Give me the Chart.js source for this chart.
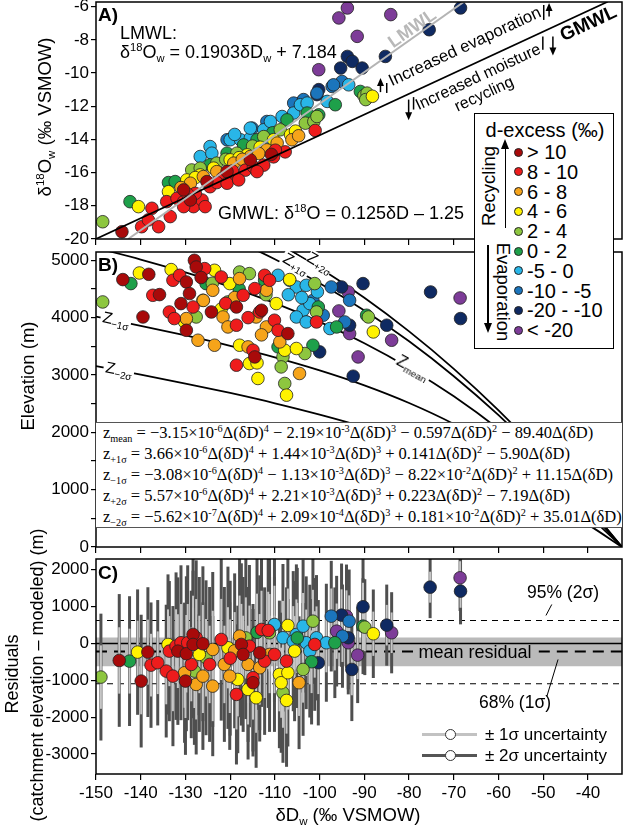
<!DOCTYPE html>
<html>
<head>
<meta charset="utf-8">
<title>Isotopes and elevation</title>
<script src="https://cdn.jsdelivr.net/npm/chart.js@4.4.1/dist/chart.umd.min.js"></script>
<style>
  body { margin: 0; background: #fff; }
  #wrap { position: relative; width: 625px; height: 828px; overflow: hidden; font-family: "Liberation Sans", Arial, sans-serif; color: #000; }
  #wrap canvas { position: absolute; left: 0; }
  .t { position: absolute; white-space: nowrap; line-height: 1; }
  sup, sub { font-size: 0.62em; line-height: 0; position: relative; vertical-align: baseline; }
  sup { top: -0.6em; }
  sub { top: 0.35em; }
  .panel { font-weight: bold; font-size: 19px; }
  .eq { position: absolute; left: 96px; top: 422px; width: 526px; height: 106px; background: #fff; border-top: 1px solid #555; border-bottom: 1px solid #555; box-sizing: border-box; font-family: "Liberation Serif", "Times New Roman", serif; font-size: 16.5px; }
  .eq div { position: absolute; left: 7px; white-space: nowrap; line-height: 1; }
  .dot { position: absolute; border-radius: 50%; border: 0.8px solid #222; box-sizing: border-box; }
  .zl { background: #fff; padding: 0 2px; font-size: 16px; }
  #legA { position: absolute; left: 474px; top: 113px; width: 140px; height: 236px; border: 1.5px solid #000; background: #fff; box-sizing: border-box; }
</style>
</head>
<body>
<div id="wrap">
  <canvas id="cA" width="625" height="250" style="top:0"></canvas>
  <canvas id="cB" width="625" height="305" style="top:250px"></canvas>
  <canvas id="cC" width="625" height="273" style="top:555px"></canvas>

  <!-- panel A text -->
  <div class="t panel" style="left:98px;top:5px">A)</div>
  <div class="t" style="left:120px;top:24px;font-size:18px">LMWL:</div>
  <div class="t" style="left:120px;top:43px;font-size:18px">δ<sup>18</sup>O<sub>w</sub> = 0.1903δD<sub>w</sub> + 7.184</div>
  <div class="t" style="left:218px;top:204px;font-size:18px">GMWL: δ<sup>18</sup>O = 0.125δD – 1.25</div>
  <div class="t" style="left:412px;top:28px;transform:translate(-50%,-50%) rotate(-35deg);font-size:18px;font-weight:bold;color:#b8b8b8">LMWL</div>
  <div class="t" style="left:588px;top:23px;transform:translate(-50%,-50%) rotate(-25deg);font-size:19px;font-weight:bold">GMWL</div>
  <div class="t" style="left:465px;top:47px;transform:translate(-50%,-50%) rotate(-25deg);font-size:16.8px">Increased evaporation</div>
  <div class="t" style="left:478px;top:76.5px;transform:translate(-50%,-50%) rotate(-25deg);font-size:16px">Increased moisture</div>
  <div class="t" style="left:484px;top:94px;transform:translate(-50%,-50%) rotate(-25deg);font-size:16px">recycling</div>
  <div class="t" style="left:45px;top:117px;transform:translate(-50%,-50%) rotate(-90deg);font-size:18.5px">δ<sup>18</sup>O<sub>w</sub> (‰ VSMOW)</div>

  <!-- panel B text -->
  <div class="t panel" style="left:98px;top:255px">B)</div>
  <div class="t zl" style="left:116px;top:320px;transform:translate(-50%,-50%) rotate(12deg)">Z<sub>−1σ</sub></div>
  <div class="t zl" style="left:119px;top:370px;transform:translate(-50%,-50%) rotate(11deg)">Z<sub>−2σ</sub></div>
  <div class="t zl" style="left:296px;top:264px;transform:translate(-50%,-50%) rotate(30deg)">Z<sub>+1σ</sub></div>
  <div class="t zl" style="left:320px;top:263px;transform:translate(-50%,-50%) rotate(30deg);padding:0">Z<sub>+2σ</sub></div>
  <div class="t zl" style="left:413px;top:368px;transform:translate(-50%,-50%) rotate(29deg)">Z<sub>mean</sub></div>
  <div class="eq">
    <div style="top:2px">z<sub>mean</sub> = −3.15×10<sup>-6</sup>Δ(δD)<sup>4</sup> − 2.19×10<sup>-3</sup>Δ(δD)<sup>3</sup> − 0.597Δ(δD)<sup>2</sup> − 89.40Δ(δD)</div>
    <div style="top:23px">z<sub>+1σ</sub> = 3.66×10<sup>-6</sup>Δ(δD)<sup>4</sup> + 1.44×10<sup>-3</sup>Δ(δD)<sup>3</sup> + 0.141Δ(δD)<sup>2</sup> − 5.90Δ(δD)</div>
    <div style="top:44px">z<sub>−1σ</sub> = −3.08×10<sup>-6</sup>Δ(δD)<sup>4</sup> − 1.13×10<sup>-3</sup>Δ(δD)<sup>3</sup> − 8.22×10<sup>-2</sup>Δ(δD)<sup>2</sup> + 11.15Δ(δD)</div>
    <div style="top:65px">z<sub>+2σ</sub> = 5.57×10<sup>-6</sup>Δ(δD)<sup>4</sup> + 2.21×10<sup>-3</sup>Δ(δD)<sup>3</sup> + 0.223Δ(δD)<sup>2</sup> − 7.19Δ(δD)</div>
    <div style="top:86px">z<sub>−2σ</sub> = −5.62×10<sup>-7</sup>Δ(δD)<sup>4</sup> + 2.09×10<sup>-4</sup>Δ(δD)<sup>3</sup> + 0.181×10<sup>-2</sup>Δ(δD)<sup>2</sup> + 35.01Δ(δD)</div>
  </div>
  <div class="t" style="left:28px;top:376px;transform:translate(-50%,-50%) rotate(-90deg);font-size:18.5px">Elevation (m)</div>

  <!-- panel C text -->
  <div class="t panel" style="left:98px;top:563px">C)</div>
  <div class="t" style="left:563px;top:593px;transform:translate(-50%,-50%);font-size:17.5px">95% (2σ)</div>
  <div class="t" style="left:515px;top:703px;transform:translate(-50%,-50%);font-size:17.5px">68% (1σ)</div>
  <div class="t" style="left:475px;top:652px;transform:translate(-50%,-50%);font-size:18px">mean residual</div>
  <div style="position:absolute;left:422px;top:732.5px;width:55px;height:3px;background:#c2c2c2"></div>
  <div class="dot" style="left:444.5px;top:728.5px;width:11px;height:11px;background:#fff;border:1px solid #333"></div>
  <div class="t" style="left:485px;top:726px;font-size:17px">± 1σ uncertainty</div>
  <div style="position:absolute;left:422px;top:753.5px;width:55px;height:3px;background:#555"></div>
  <div class="dot" style="left:444.5px;top:749.5px;width:11px;height:11px;background:#fff;border:1px solid #333"></div>
  <div class="t" style="left:485px;top:747px;font-size:17px">± 2σ uncertainty</div>
  <div class="t" style="left:12px;top:674px;transform:translate(-50%,-50%) rotate(-90deg);font-size:18px">Residuals</div>
  <div class="t" style="left:37px;top:675px;transform:translate(-50%,-50%) rotate(-90deg);font-size:18px">(catchment elevation – modeled) (m)</div>
  <div class="t" style="left:348px;top:815px;transform:translate(-50%,-50%);font-size:18.5px">δD<sub>w</sub> (‰ VSMOW)</div>

  <!-- d-excess legend -->
  <div id="legA">
    <div class="t" style="left:70px;top:6px;transform:translateX(-50%);font-size:20px">d-excess (‰)</div>
    <div class="t" style="left:14px;top:72px;transform:translate(-50%,-50%) rotate(-90deg);font-size:18.5px">Recycling</div>
    <div class="t" style="left:28px;top:178px;transform:translate(-50%,-50%) rotate(90deg);font-size:18.5px">Evaporation</div>
    <div style="position:absolute;left:29.5px;top:34px;width:1.5px;height:80px;background:#000"></div>
    <div style="position:absolute;left:26.2px;top:25px;width:0;height:0;border-left:4px solid transparent;border-right:4px solid transparent;border-bottom:10px solid #000"></div>
    <div style="position:absolute;left:12px;top:131px;width:1.5px;height:80px;background:#000"></div>
    <div style="position:absolute;left:8.7px;top:209px;width:0;height:0;border-left:4px solid transparent;border-right:4px solid transparent;border-top:10px solid #000"></div>
  </div>
</div>

<script>
// ---- data ----
const xMin = -150, xMax = -32.4;
const xTicks = [-150, -140, -130, -120, -110, -100, -90, -80, -70, -60, -50, -40];
const yTicksA = [-20, -18, -16, -14, -12, -10, -8, -6];
const yTicksB = [0, 500, 1000, 1500, 2000, 2500, 3000, 3500, 4000, 4500, 5000];
const yTicksC = [-3000, -2000, -1000, 0, 1000, 2000];

const classNames = ['> 10', '8 - 10', '6 - 8', '4 - 6', '2 - 4', '0 - 2', '-5 - 0', '-10 - -5', '-20 - -10', '< -20'];
const classColors = ['#a80a0a', '#ee1c1c', '#f6a41a', '#fff200', '#8dc63f', '#1ea04a', '#29b6e8', '#1b75bc', '#0f2a62', '#7d3c98'];

// panel A: [dD, d18O, class]
const ptsA = [
  [-144.2,-19.56,0],[-128.9,-17.65,0],[-130.4,-17.04,0],[-125.2,-16.54,0],[-120.7,-15.94,0],[-115.5,-15.23,0],[-110.8,-14.9,0],
  [-139.8,-19.26,1],[-138.3,-18.85,1],[-136.0,-19.26,1],[-137.5,-18.15,1],[-133.4,-18.65,1],[-134.2,-17.75,1],[-131.9,-17.55,1],
  [-130.4,-17.75,1],[-128.2,-18.05,1],[-126.3,-17.65,1],[-127.8,-17.25,1],[-124.5,-16.85,1],[-121.8,-16.35,1],[-118.9,-16.25,1],
  [-116.6,-15.85,1],[-114.8,-15.65,1],[-112.5,-15.55,1],[-110.3,-15.05,1],[-107.7,-14.75,1],[-109.9,-14.65,1],[-101.0,-13.46,1],
  [-129.5,-17.3,1],[-123.0,-16.6,1],[-119.5,-15.9,1],[-130.4,-18.05,1],[-125.6,-18.05,1],[-120.7,-16.64,1],[-118.1,-16.44,1],[-114.0,-15.94,1],
  [-128.9,-16.64,2],[-126.0,-16.24,2],[-123.0,-15.94,2],[-119.2,-15.43,2],[-115.5,-15.03,2],[-111.8,-14.63,2],[-109.5,-14.22,2],
  [-106.2,-14.02,2],[-104.7,-13.78,2],[-131.0,-16.9,2],[-117.3,-15.2,2],[-113.6,-14.85,2],
  [-140.5,-18.05,3],[-133.8,-17.15,3],[-129.7,-16.44,3],[-126.7,-16.14,3],[-123.7,-15.73,3],[-120.0,-15.23,3],[-116.2,-14.93,3],
  [-113.3,-14.47,3],[-110.3,-14.02,3],[-106.5,-13.72,3],[-105.4,-13.5,3],[-88.2,-11.4,3],[-127.8,-16.3,3],[-118.0,-15.1,3],
  [-148.5,-18.96,4],[-128.6,-15.84,4],[-126.7,-15.73,4],[-123.0,-15.43,4],[-118.5,-14.83,4],[-112.5,-13.83,4],[-108.8,-13.42,4],
  [-103.2,-13.02,4],[-101.3,-12.92,4],[-100.6,-12.62,4],[-90.1,-11.37,4],[-89.4,-11.21,4],[-89.7,-11.6,4],[-121.0,-15.2,4],[-115.0,-14.4,4],
  [-142.4,-17.75,5],[-133.8,-16.6,5],[-132.3,-16.54,5],[-124.5,-15.53,5],[-120.7,-14.83,5],[-117.0,-14.33,5],[-114.0,-14.02,5],
  [-107.3,-12.82,5],[-102.8,-12.41,5],[-100.2,-12.52,5],[-96.5,-11.91,5],[-90.9,-11.11,5],[-110.5,-13.6,5],
  [-126.7,-15.03,6],[-124.5,-14.43,6],[-124.1,-14.83,6],[-120.0,-14.02,6],[-117.7,-14.02,6],[-115.5,-13.92,6],[-112.5,-13.42,6],
  [-111.0,-12.92,6],[-108.4,-12.62,6],[-105.8,-12.41,6],[-104.3,-11.91,6],[-102.8,-11.81,6],[-98.3,-11.71,6],[-93.5,-10.71,6],
  [-111.8,-14.02,6],[-115.5,-13.32,6],[-119.0,-13.7,6],
  [-115.1,-13.32,7],[-103.9,-11.71,7],[-100.6,-11.21,7],[-97.2,-10.81,7],[-95.0,-10.51,7],[-111.8,-12.92,7],[-120.7,-14.02,7],
  [-105.8,-11.81,7],[-103.6,-11.6,7],[-96.9,-10.71,7],
  [-93.8,-9.0,8],[-92.7,-9.3,8],[-95.3,-9.7,8],[-90.5,-9.7,8],[-85.3,-9.0,8],[-75.5,-7.39,8],[-68.5,-6.08,8],[-100.2,-11.0,8],[-100.6,-11.3,8],
  [-100.2,-9.8,9],[-93.8,-6.08,9],[-95.7,-6.68,9],[-84.1,-6.48,9],[-91.6,-7.79,9]
];
const gmwlLine = [[-150, -20], [-35.6, -5.7]];
const lmwlLine = [[-142.8, -20], [-67.8, -5.72]];

// panel B: [dD, elevation, class]
const ptsB = [
  [-144,4664,0],[-138.2,4756,0],[-135.8,4402,0],[-139.5,4012,0],[-129.8,4622,0],[-128,5000,0],[-127.6,4883,0],[-129.1,4420,0],
  [-131,4245,0],[-129.8,3780,0],[-124.2,4099,0],[-118.6,4186,0],[-114.5,3315,0],[-113,4129,0],[-107.1,3722,0],[-126.5,4700,0],
  [-137.3,4390,1],[-133.6,4099,1],[-132.5,3984,1],[-128.3,4186,1],[-132.8,4652,1],[-131.3,4739,1],[-125.7,4855,1],[-122,4709,1],
  [-117.1,4390,1],[-118.6,3868,1],[-114.9,3432,1],[-118.6,3171,1],[-113.4,4099,1],[-114.5,4507,1],[-112.3,4739,1],[-111.2,4652,1],
  [-110.1,3955,1],[-109.3,3780,1],[-100.7,3925,1],[-121,4250,1],[-116,4000,1],
  [-129.8,3984,2],[-127.2,3606,2],[-123.5,3519,2],[-123.9,4477,2],[-121.6,4012,2],[-117.9,4681,2],[-120.5,3838,2],[-116,3490,2],
  [-114.2,4012,2],[-111.9,4477,2],[-111.9,3838,2],[-108.9,3577,2],[-104.5,3026,2],[-126,4300,2],[-119,4350,2],[-113,3700,2],
  [-140.3,4779,3],[-133.2,4838,3],[-130.2,3925,3],[-126.1,4303,3],[-123.5,4826,3],[-120.1,4594,3],[-117.9,3519,3],[-115.7,3200,3],
  [-113.8,2939,3],[-109.7,4245,3],[-107.8,3432,3],[-107.4,2648,3],[-105.2,3462,3],[-106.7,4664,3],[-88,3751,3],[-114,3211,3],[-122,4150,3],
  [-148.5,4274,4],[-127.6,4012,4],[-120.5,4274,4],[-117.9,4796,4],[-115.7,4768,4],[-108.2,3315,4],[-108.6,3141,4],[-107.8,2852,4],
  [-103.3,3374,4],[-101.1,4594,4],[-100.7,4099,4],[-89.1,4012,4],[-124,4600,4],[-112,4400,4],
  [-142.2,4594,5],[-125.4,4594,5],[-112.3,4652,5],[-109.3,3490,5],[-101.5,3519,5],[-100.3,4186,5],[-96.2,3838,5],[-89.5,4042,5],[-118,4500,5],
  [-109.3,4739,6],[-106.7,4652,6],[-105.2,4535,6],[-103,4564,6],[-103.7,4129,6],[-102.2,4245,6],[-105.2,4012,6],[-103,3925,6],
  [-97.7,3810,6],[-107,4400,6],[-104,4350,6],[-100.5,4450,6],
  [-97.4,4535,7],[-93.3,4303,7],[-99.2,4042,7],[-94.4,3925,7],[-101.5,4300,7],
  [-95.1,4535,8],[-90.3,4594,8],[-93.3,3868,8],[-85,3868,8],[-100,3403,8],[-92.5,2979,8],[-75.2,4448,8],[-68.5,3984,8],
  [-93.6,4448,9],[-95.7,4117,9],[-93.3,3722,9],[-83.9,3606,9],[-91.4,3315,9],[-68.6,4343,9]
];
// lapse-rate curves, elevation (m) at each curveX
const curveX  = [-150, -140, -130, -120, -110, -100, -90, -80, -70, -60, -50, -40, -32.4];
const zMean   = [5216, 5014, 4789, 4537, 4252, 3926, 3553, 3123, 2628, 2057, 1400, 646, 0];
const zPlus1  = [6218, 5978, 5701, 5383, 5019, 4601, 4126, 3587, 2979, 2299, 1540, 698, 0];
const zPlus2  = [6617, 6363, 6066, 5720, 5322, 4865, 4346, 3760, 3107, 2382, 1584, 712, 0];
const zMinus1 = [4017, 3857, 3689, 3508, 3308, 3081, 2820, 2512, 2146, 1709, 1184, 557, 0];
const zMinus2 = [3155, 3007, 2851, 2686, 2507, 2310, 2091, 1841, 1555, 1224, 839, 390, 0];

// panel C: [dD, residual, class, 1-sigma]
const ptsC = [
  [-144.8,-461,0,900],[-138.4,-235,0,880],[-139.9,-1021,0,900],[-131.7,-208,0,1000],[-129.8,-279,0,1050],[-130,-1021,0,1000],
  [-128.3,244,0,1050],[-128.3,-27,0,1000],[-126.1,-8,0,1050],[-117.5,-27,0,1100],[-117.1,-298,0,1050],[-114.9,-1065,0,1000],[-113.4,-253,0,1050],
  [-137.7,-588,1,850],[-136.2,-523,1,850],[-133.6,-208,1,950],[-134.3,-750,1,900],[-132.8,-886,1,950],[-132.1,-73,1,1000],
  [-131,19,1,1050],[-129.5,19,1,1050],[-127.6,154,1,1050],[-128.7,-569,1,1000],[-124.6,-569,1,1050],[-122,108,1,1100],
  [-118.6,-1382,1,950],[-115.7,-73,1,1100],[-114.9,-930,1,1000],[-113,379,1,1050],[-111.5,352,1,1050],[-112.3,-479,1,1000],
  [-110.1,-298,1,1050],[-107.4,-479,1,1000],[-101.1,-27,1,900],[-120,-400,1,1050],
  [-130.2,-794,2,950],[-127.6,-1111,2,950],[-126.1,-886,2,1000],[-123.9,-1157,2,950],[-123.9,-163,2,1050],[-121.3,-569,2,1050],
  [-120.1,-886,2,1000],[-117.9,198,2,1100],[-116,-569,2,1050],[-113.4,-659,2,1000],[-111.2,-298,2,1050],[-104.6,-1065,2,900],[-119,-200,2,1050],
  [-140.7,-235,3,850],[-133.9,-27,3,950],[-126.9,-298,3,1050],[-120.5,-117,3,1100],[-118.3,-976,3,1000],[-116,-1247,3,950],
  [-114.2,-1472,3,950],[-109,-840,3,1000],[-108.6,-1065,3,950],[-107.4,-1545,3,900],[-107.1,-794,3,1000],[-105.6,-208,3,950],
  [-107.1,488,3,1000],[-88,263,3,600],
  [-148.9,-912,4,860],[-128,-750,4,1000],[-125.4,-388,4,1050],[-111.2,289,4,1050],[-108.2,-1336,4,950],[-103.7,-705,4,900],
  [-101.5,604,4,850],[-89.9,442,4,650],[-116.5,150,4,1100],
  [-142.5,-479,5,880],[-101.8,-496,5,850],[-96.6,19,5,750],[-90.3,469,5,650],[-105,150,5,950],[-114,300,5,1050],
  [-110.1,515,6,1050],[-105.2,244,6,950],[-103.7,469,6,900],[-103,19,6,900],[-102.2,-208,6,900],[-108.2,154,6,1000],
  [-105.9,62,6,950],[-100.7,154,6,850],[-98.5,19,6,800],
  [-97.4,740,7,750],[-93.4,604,7,700],[-94.9,198,7,700],
  [-100.3,-523,8,850],[-95.1,767,8,700],[-93.6,154,8,700],[-92.8,-705,8,700],[-90.3,995,8,650],[-85,496,8,550],
  [-75.3,1526,8,420],[-68.5,1418,8,450],
  [-94,740,9,700],[-96.2,333,9,750],[-93.6,19,9,700],[-91.5,-317,9,650],[-83.9,290,9,550],[-68.6,1780,9,450]
];
const meanResidual = -217;
const bandTop = 160, bandBottom = -620;
const level95 = 623, level68 = -1092;

// ---- helpers ----
Chart.defaults.font.family = "'Liberation Sans', Arial, sans-serif";
Chart.defaults.color = '#000';

function xScale(showLabels, h) {
  return {
    type: 'linear', position: 'bottom', min: xMin, max: xMax,
    afterBuildTicks: s => { s.ticks = xTicks.map(v => ({ value: v })); },
    afterFit: s => { s.height = h; s.paddingLeft = 0; s.paddingRight = 0; },
    grid: { drawOnChartArea: false, drawTicks: true, tickLength: 6, color: '#000', lineWidth: 1.2 },
    border: { display: false },
    ticks: { display: showLabels, font: { size: 17 }, color: '#000', padding: 3, maxRotation: 0, autoSkip: false, callback: v => String(v) }
  };
}

function yScale(min, max, tickVals, labelFn) {
  return {
    type: 'linear', position: 'left', min, max,
    afterBuildTicks: s => { s.ticks = tickVals.map(v => ({ value: v })); },
    afterFit: s => { s.width = 96; s.paddingTop = 0; s.paddingBottom = 0; },
    grid: { drawOnChartArea: false, drawTicks: true, tickLength: 5, color: '#000', lineWidth: 1.2 },
    border: { display: false },
    ticks: { font: { size: 17 }, color: '#000', padding: 2, autoSkip: false, callback: labelFn || (v => String(v)) }
  };
}

function options(padTop, x, y) {
  return {
    responsive: false, animation: false, devicePixelRatio: 1,
    layout: { autoPadding: false, padding: { left: 0, right: 3, top: padTop, bottom: 0 } },
    plugins: { legend: { display: false }, tooltip: { enabled: false } },
    scales: { x, y }
  };
}

function classSets(pts, radius) {
  return classColors.map((color, k) => ({
    type: 'scatter',
    data: pts.filter(p => p[2] === k).map(p => ({ x: p[0], y: p[1] })),
    backgroundColor: color, borderColor: '#222', borderWidth: 0.8,
    pointRadius: radius, pointHoverRadius: radius,
    order: k + 1, barsBefore: k === classColors.length - 1
  }));
}

function line(pairs, style) {
  return Object.assign({
    type: 'line', data: pairs.map(p => ({ x: p[0], y: p[1] })),
    pointRadius: 0, fill: false, borderColor: '#000', borderWidth: 1.5, tension: 0
  }, style);
}

function curve(ys) {
  return line(curveX.map((x, i) => [x, ys[i]]), { cubicInterpolationMode: 'monotone', borderWidth: 1.8, order: 20 });
}

const frame = {
  id: 'frame',
  afterDraw(chart) {
    const a = chart.chartArea, c = chart.ctx;
    c.save();
    c.strokeStyle = '#000';
    c.lineWidth = 1.5;
    c.strokeRect(a.left, a.top, a.right - a.left, a.bottom - a.top);
    c.restore();
  }
};

// arrows and small bars next to the GMWL annotations
const gmwlArrows = {
  id: 'gmwlArrows',
  afterDatasetsDraw(chart) {
    const { x, y } = chart.scales, c = chart.ctx;
    const arrows = [[-86.4, -11.15, -10.3], [-48.7, -6.6, -5.78], [-80.1, -11.6, -12.85], [-47.85, -7.8, -8.95]];
    const bars = [[-85.0, -10.6, -11.2], [-49.9, -5.9, -6.8], [-79.0, -11.45, -12.2], [-50.1, -7.8, -8.6]];
    c.save();
    c.strokeStyle = '#000'; c.fillStyle = '#000'; c.lineWidth = 1.5;
    arrows.forEach(([dx, a0, a1]) => {
      const px = x.getPixelForValue(dx), y0 = y.getPixelForValue(a0), y1 = y.getPixelForValue(a1);
      const dir = Math.sign(y1 - y0);
      c.beginPath(); c.moveTo(px, y0); c.lineTo(px, y1 - dir * 6); c.stroke();
      c.beginPath(); c.moveTo(px, y1); c.lineTo(px - 3.5, y1 - dir * 8); c.lineTo(px + 3.5, y1 - dir * 8); c.closePath(); c.fill();
    });
    bars.forEach(([dx, b0, b1]) => {
      const px = x.getPixelForValue(dx);
      c.beginPath(); c.moveTo(px, y.getPixelForValue(b0)); c.lineTo(px, y.getPixelForValue(b1)); c.stroke();
    });
    c.restore();
  }
};

// +-1 and +-2 sigma bars drawn just before the first point layer
const errorBars = {
  id: 'errorBars',
  beforeDatasetDraw(chart, args) {
    if (!chart.data.datasets[args.index].barsBefore) return;
    const { x, y } = chart.scales, c = chart.ctx, a = chart.chartArea;
    c.save();
    c.beginPath(); c.rect(a.left, a.top, a.right - a.left, a.bottom - a.top); c.clip();
    ptsC.forEach(p => {
      const px = x.getPixelForValue(p[0]);
      c.strokeStyle = '#4f4f4f'; c.lineWidth = 3;
      c.beginPath(); c.moveTo(px, y.getPixelForValue(p[1] - 2 * p[3])); c.lineTo(px, y.getPixelForValue(p[1] + 2 * p[3])); c.stroke();
    });
    ptsC.forEach(p => {
      const px = x.getPixelForValue(p[0]);
      c.strokeStyle = '#c6c6c6'; c.lineWidth = 2;
      c.beginPath(); c.moveTo(px, y.getPixelForValue(p[1] - p[3])); c.lineTo(px, y.getPixelForValue(p[1] + p[3])); c.stroke();
    });
    c.restore();
  }
};

// ---- panel A ----
new Chart(document.getElementById('cA'), {
  type: 'scatter',
  data: {
    datasets: [
      line(lmwlLine, { borderColor: '#b4b4b4', borderWidth: 2, order: 0 }),
      line(gmwlLine, { borderColor: '#000', borderWidth: 1.6, order: 0 }),
      ...classSets(ptsA, 6.3)
    ]
  },
  options: options(2, xScale(false, 11), yScale(-20, -5.72, yTicksA)),
  plugins: [frame, gmwlArrows]
});

// ---- panel B ----
new Chart(document.getElementById('cB'), {
  type: 'scatter',
  data: {
    datasets: [
      curve(zMean), curve(zPlus1), curve(zPlus2), curve(zMinus1), curve(zMinus2),
      ...classSets(ptsB, 6.3)
    ]
  },
  options: options(2, xScale(false, 8), yScale(0, 5145, yTicksB, v => (v % 1000 === 0 ? String(v) : ''))),
  plugins: [frame]
});

// ---- panel C ----
new Chart(document.getElementById('cC'), {
  type: 'scatter',
  data: {
    datasets: [
      line([[xMin, bandTop], [xMax, bandTop]], { borderWidth: 0, fill: '+1', backgroundColor: '#bababa', order: 30 }),
      line([[xMin, bandBottom], [xMax, bandBottom]], { borderWidth: 0, order: 29 }),
      line([[xMin, 0], [xMax, 0]], { borderWidth: 1.6, order: 25 }),
      line([[xMin, meanResidual], [-79, meanResidual], [-65, null], [-51, meanResidual], [xMax, meanResidual]],
           { borderWidth: 2, borderDash: [11, 7], spanGaps: false, order: 24 }),
      line([[xMin, level95], [xMax, level95]], { borderWidth: 1.1, borderDash: [6, 5], order: 23 }),
      line([[xMin, level68], [xMax, level68]], { borderWidth: 1.1, borderDash: [6, 5], order: 23 }),
      line([[-49.4, 759], [-48.1, 1057]], { borderWidth: 1, order: 22 }),
      line([[-49.2, -1436], [-46.7, -434]], { borderWidth: 1, order: 22 }),
      ...classSets(ptsC, 6.3)
    ]
  },
  options: options(4, xScale(true, 54), yScale(-3540, 2290, yTicksC)),
  plugins: [frame, errorBars]
});

// ---- d-excess legend entries ----
const leg = document.getElementById('legA');
classNames.forEach((name, k) => {
  const cy = 38 + k * 19.8;
  const dot = document.createElement('div');
  dot.className = 'dot';
  Object.assign(dot.style, { left: '39px', top: (cy - 4.5) + 'px', width: '9px', height: '9px', background: classColors[k] });
  leg.appendChild(dot);
  const label = document.createElement('div');
  label.className = 't';
  Object.assign(label.style, { left: '52px', top: (cy - 10) + 'px', fontSize: '20px' });
  label.textContent = name;
  leg.appendChild(label);
});
</script>
</body>
</html>
